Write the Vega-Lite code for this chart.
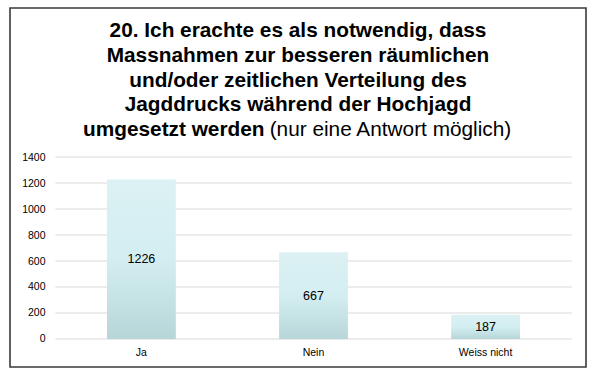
{
  "$schema": "https://vega.github.io/schema/vega-lite/v6.json",
  "width": 576,
  "height": 359,
  "autosize": "none",
  "padding": {"left": 10, "top": 8, "right": 9, "bottom": 6},
  "background": "#ffffff",
  "title": {
    "text": [
      "20. Ich erachte es als notwendig, dass",
      "Massnahmen zur besseren räumlichen",
      "und/oder zeitlichen Verteilung des",
      "Jagddrucks während der Hochjagd",
      "umgesetzt werden\u00a0\u00a0\u00a0\u00a0\u00a0\u00a0\u00a0\u00a0\u00a0\u00a0\u00a0\u00a0\u00a0\u00a0\u00a0\u00a0\u00a0\u00a0\u00a0\u00a0\u00a0\u00a0\u00a0\u00a0\u00a0\u00a0\u00a0\u00a0\u00a0\u00a0\u00a0\u00a0\u00a0\u00a0\u00a0\u00a0\u00a0\u00a0\u00a0\u00a0\u00a0\u00a0\u00a0\u200b"
    ],
    "subtitle": "\u200b\u00a0\u00a0\u00a0\u00a0\u00a0\u00a0\u00a0\u00a0\u00a0\u00a0\u00a0\u00a0\u00a0\u00a0\u00a0\u00a0\u00a0\u00a0\u00a0\u00a0\u00a0\u00a0\u00a0\u00a0\u00a0\u00a0\u00a0\u00a0\u00a0\u00a0\u00a0\u00a0(nur eine Antwort möglich)",
    "anchor": "middle",
    "frame": "group",
    "offset": -133,
    "font": "Liberation Sans",
    "fontSize": 20.8,
    "fontWeight": "bold",
    "color": "#000000",
    "lineHeight": 24.7,
    "subtitleFont": "Liberation Sans",
    "subtitleFontSize": 20.8,
    "subtitleFontWeight": "normal",
    "subtitleColor": "#000000",
    "subtitlePadding": -21
  },
  "datasets": {
    "antworten": [
      {"antwort": "Ja", "anzahl": 1226},
      {"antwort": "Nein", "anzahl": 667},
      {"antwort": "Weiss nicht", "anzahl": 187}
    ],
    "raster": [
      {"tick": 0}, {"tick": 200}, {"tick": 400}, {"tick": 600},
      {"tick": 800}, {"tick": 1000}, {"tick": 1200}, {"tick": 1400}
    ]
  },
  "layer": [
    {
      "data": {"name": "raster"},
      "mark": {"type": "rule", "color": "#d9d9d9", "strokeWidth": 1.2},
      "encoding": {
        "x": {"datum": "Ja", "type": "nominal", "bandPosition": -0.75,
              "scale": {"paddingInner": 0.6, "paddingOuter": 0.4736, "align": 0.595},
              "axis": {"title": null, "domain": false, "ticks": false, "tickSize": 0, "labelPadding": 8,
                       "offset": -28, "labelAngle": 0, "labelFont": "Liberation Sans",
                       "labelFontSize": 10.5, "labelColor": "#000000", "grid": false}},
        "x2": {"datum": "Weiss nicht", "bandPosition": 1.75},
        "y": {"field": "tick", "type": "quantitative",
              "scale": {"domain": [-215.4, 2546.2], "nice": false, "zero": false},
              "axis": {"title": null, "values": [0, 200, 400, 600, 800, 1000, 1200, 1400],
                       "format": "d",
                       "grid": false, "domain": false, "ticks": false, "tickSize": 0,
                       "labelPadding": 10, "offset": -45, "labelFont": "Liberation Sans",
                       "labelFontSize": 10.5, "labelColor": "#000000"}}
      }
    },
    {
      "data": {"name": "antworten"},
      "mark": {
        "type": "bar",
        "color": {
          "gradient": "linear", "x1": 0, "y1": 0, "x2": 0, "y2": 1,
          "stops": [
            {"offset": 0, "color": "#dcf1f4"},
            {"offset": 0.5, "color": "#d3eef1"},
            {"offset": 1, "color": "#b7d6d8"}
          ]
        }
      },
      "encoding": {
        "x": {"field": "antwort", "type": "nominal", "title": null},
        "y": {"field": "anzahl", "type": "quantitative", "title": null}
      }
    },
    {
      "data": {"name": "antworten"},
      "transform": [{"calculate": "datum.anzahl / 2", "as": "mitte"}],
      "mark": {"type": "text", "font": "Liberation Sans", "fontSize": 12.5, "color": "#000000", "baseline": "middle"},
      "encoding": {
        "x": {"field": "antwort", "type": "nominal", "title": null},
        "y": {"field": "mitte", "type": "quantitative", "title": null},
        "text": {"field": "anzahl", "type": "quantitative"}
      }
    }
  ],
  "config": {
    "view": {"stroke": "#3a3a3a", "strokeWidth": 1.6}
  }
}
